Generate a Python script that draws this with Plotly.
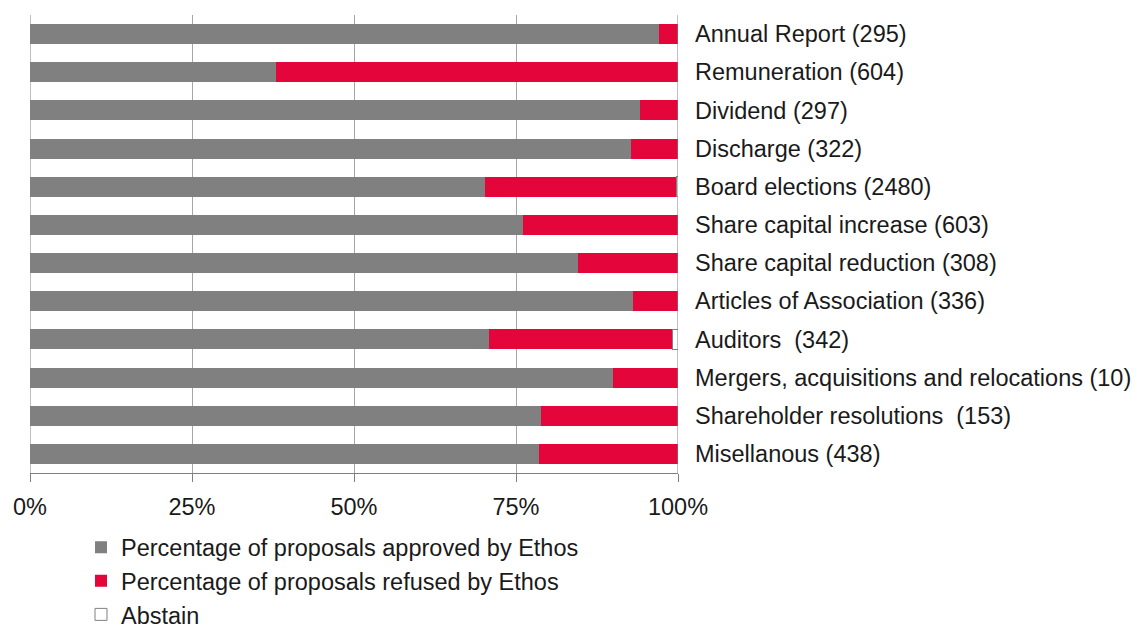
import plotly.graph_objects as go

categories = [
    "Annual Report (295)",
    "Remuneration (604)",
    "Dividend (297)",
    "Discharge (322)",
    "Board elections (2480)",
    "Share capital increase (603)",
    "Share capital reduction (308)",
    "Articles of Association (336)",
    "Auditors  (342)",
    "Mergers, acquisitions and relocations (10)",
    "Shareholder resolutions  (153)",
    "Misellanous (438)",
]
approved = [97.1, 38.0, 94.1, 92.7, 70.2, 76.1, 84.6, 93.0, 70.8, 90.0, 78.9, 78.5]
refused = [2.9, 62.0, 5.9, 7.3, 29.5, 23.9, 15.4, 7.0, 28.4, 10.0, 21.1, 21.5]
abstain = [0.0, 0.0, 0.0, 0.0, 0.3, 0.0, 0.0, 0.0, 0.8, 0.0, 0.0, 0.0]

x_ticks = [0, 25, 50, 75, 100]
x_ticklabels = ["0%", "25%", "50%", "75%", "100%"]

FONT = "Liberation Sans"
FS = 23.5
TXT = "#1a1a1a"

fig = go.Figure()
fig.add_trace(go.Bar(
    y=categories, x=approved, orientation="h",
    name="Percentage of proposals approved by Ethos", legendgroup="a",
    marker=dict(color="#808080", line=dict(width=0)),
))
fig.add_trace(go.Bar(
    y=categories, x=refused, orientation="h",
    name="Percentage of proposals refused by Ethos", legendgroup="r",
    marker=dict(color="#E4063A", line=dict(width=0)),
))
fig.add_trace(go.Bar(
    y=categories, x=abstain, orientation="h",
    name="Abstain", legendgroup="s",
    marker=dict(color="#ffffff", line=dict(width=1, color="#808080")),
))

fig.update_layout(
    barmode="stack",
    bargap=0.48,
    width=1132, height=622,
    paper_bgcolor="white", plot_bgcolor="white",
    margin=dict(l=22, r=462, t=7, b=157, autoexpand=False),
    font=dict(family=FONT, size=FS, color=TXT),
    showlegend=True,
    legend=dict(
        xref="container", yref="container",
        x=0.0645, y=0.168, xanchor="left", yanchor="top",
        orientation="v",
        font=dict(family=FONT, size=FS, color=TXT),
        itemwidth=30,
        tracegroupgap=5,
        traceorder="normal",
        bgcolor="rgba(0,0,0,0)",
    ),
    xaxis=dict(
        range=[0, 100],
        tickvals=x_ticks, ticktext=x_ticklabels,
        showgrid=True, gridcolor="#a6a6a6", gridwidth=1,
        showline=True, linecolor="#808080", linewidth=1,
        ticks="outside", ticklen=8, tickcolor="#808080",
        ticklabelstandoff=5,
        tickfont=dict(family=FONT, size=FS, color=TXT),
        zeroline=False,
        automargin=False,
        fixedrange=True,
    ),
    yaxis=dict(
        autorange="reversed",
        side="right",
        showline=False,
        showgrid=False,
        ticks="",
        ticklabelstandoff=16,
        automargin=False,
        tickfont=dict(family=FONT, size=FS, color=TXT),
    ),
    shapes=[
        dict(type="line", xref="x", yref="paper", x0=0, x1=0, y0=0, y1=1,
             line=dict(color="#808080", width=1)),
        dict(type="line", xref="x", yref="paper", x0=100, x1=100, y0=0, y1=1,
             line=dict(color="#808080", width=1)),
    ],
)

fig.write_html("out.html")
